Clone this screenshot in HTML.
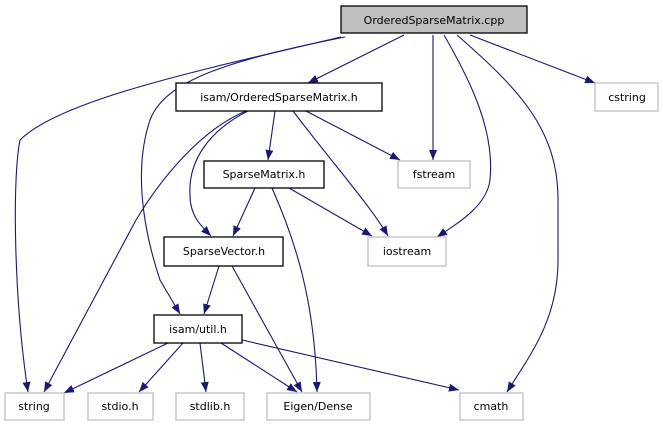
<!DOCTYPE html>
<html><head><meta charset="utf-8"><style>
html,body{margin:0;padding:0;background:#fff;}
svg{display:block;}
text{font-family:"DejaVu Sans","Liberation Sans",sans-serif;font-size:11px;fill:#000;}
</style></head><body>
<svg width="663" height="427" viewBox="0 0 663 427" xmlns="http://www.w3.org/2000/svg">
<defs>
<marker id="a" viewBox="0 0 10 10" refX="10" refY="5" markerWidth="10" markerHeight="10" markerUnits="userSpaceOnUse" orient="auto">
<path d="M0,1 L10,5 L0,9 z" fill="#191970"/>
</marker>
</defs>
<g fill="none" stroke="#191970" stroke-width="1.1" marker-end="url(#a)">
<path d="M341,37 C200,70 60,100 20,140 C12,180 14,300 28,392"/>
<path d="M345,37 C230,60 165,80 150,120 C130,180 150,250 160,280 L180,314"/>
<path d="M404,35 L308,83"/>
<path d="M433,35 L433,160"/>
<path d="M444,35 C470,80 495,130 490,180 C487,205 460,222 437,237"/>
<path d="M457,35 C520,90 558,130 558,200 L558,260 C558,320 530,355 507,392"/>
<path d="M470,35 L595,83"/>
<path d="M275,111 L268,160"/>
<path d="M306,111 L400,160"/>
<path d="M293,111 C330,160 370,205 388,236"/>
<path d="M248,111 C210,130 188,160 190,195 C190,215 200,225 211,236"/>
<path d="M246,111 C200,130 160,180 136,220 L44,392"/>
<path d="M255,188 L233,236"/>
<path d="M272,188 C295,240 315,300 317,392"/>
<path d="M289,188 L372,236"/>
<path d="M219,266 L204,314"/>
<path d="M232,266 L302,392"/>
<path d="M168,343 L64,393"/>
<path d="M183,343 L139,392"/>
<path d="M200,343 L206,392"/>
<path d="M221,343 L297,392"/>
<path d="M242,340 L459,390"/>
</g>
<g stroke-width="1.3">
<rect x="341" y="6" width="186" height="27" fill="#bfbfbf" stroke="#000"/>
<rect x="176" y="83" width="206" height="28" fill="#fff" stroke="#000"/>
<rect x="595" y="83" width="63" height="28" fill="#fff" stroke="#bfbfbf"/>
<rect x="204" y="161" width="120" height="27" fill="#fff" stroke="#000"/>
<rect x="398" y="161" width="72" height="27" fill="#fff" stroke="#bfbfbf"/>
<rect x="164" y="237" width="119" height="29" fill="#fff" stroke="#000"/>
<rect x="368" y="237" width="78" height="29" fill="#fff" stroke="#bfbfbf"/>
<rect x="154" y="315" width="88" height="28" fill="#fff" stroke="#000"/>
<rect x="5" y="393" width="59" height="27" fill="#fff" stroke="#bfbfbf"/>
<rect x="88" y="393" width="65" height="27" fill="#fff" stroke="#bfbfbf"/>
<rect x="176" y="393" width="68" height="27" fill="#fff" stroke="#bfbfbf"/>
<rect x="267" y="393" width="103" height="27" fill="#fff" stroke="#bfbfbf"/>
<rect x="460" y="393" width="63" height="27" fill="#fff" stroke="#bfbfbf"/>
</g>
<g text-anchor="middle">
<text x="434" y="24">OrderedSparseMatrix.cpp</text>
<text x="279" y="101">isam/OrderedSparseMatrix.h</text>
<text x="627" y="101">cstring</text>
<text x="264" y="178">SparseMatrix.h</text>
<text x="434" y="178">fstream</text>
<text x="224" y="255">SparseVector.h</text>
<text x="407" y="255">iostream</text>
<text x="198" y="333">isam/util.h</text>
<text x="34" y="410">string</text>
<text x="120" y="410">stdio.h</text>
<text x="210" y="410">stdlib.h</text>
<text x="318" y="410">Eigen/Dense</text>
<text x="491" y="410">cmath</text>
</g>
</svg>
</body></html>
